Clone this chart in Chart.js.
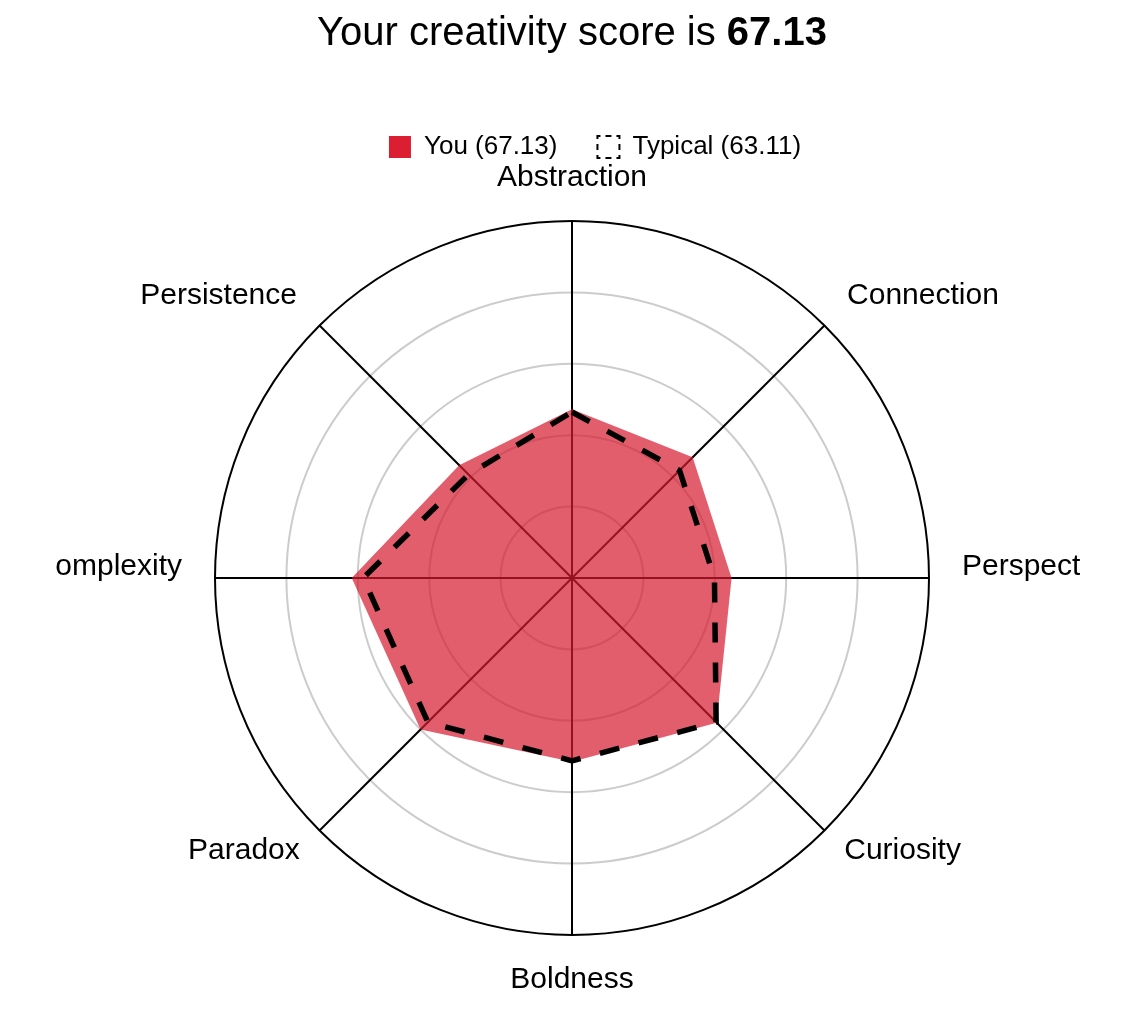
<!DOCTYPE html>
<html>
<head>
<meta charset="utf-8">
<script src="https://cdn.jsdelivr.net/npm/chart.js@4/dist/chart.umd.min.js"></script>
<style>
  html, body { margin: 0; padding: 0; background: #fff; width: 1133px; height: 1015px; overflow: hidden; }
  #title { position: absolute; left: 0; top: 11px; width: 1133px; box-sizing: border-box; padding-left: 11px;
           text-align: center; font-family: "Liberation Sans", Arial, sans-serif; font-size: 40px; line-height: 40px; color: #000; z-index: 2; }
  #wrap { position: absolute; left: 0; top: 0; width: 1133px; height: 1015px; clip-path: inset(0 53px 0 55px); }
</style>
</head>
<body>
<div id="title">Your creativity score is <b>67.13</b></div>
<div id="wrap"><canvas id="c" width="1133" height="1015"></canvas></div>
<script>
const categories = ["Abstraction", "Connection", "Perspective", "Curiosity", "Boldness", "Paradox", "Complexity", "Persistence"];
const youValues = [47.3, 47.8, 44.7, 57.3, 51.5, 60.0, 61.7, 44.7];
const typicalValues = [46.5, 42.6, 39.9, 57.1, 51.2, 57.1, 58.5, 41.0];
const seriesNames = ["You (67.13)", "Typical (63.11)"];
const tickValues = [0, 20, 40, 60, 80, 100];

const RED_SOLID = "rgb(220, 30, 50)";
const RED_FILL = "rgba(214, 25, 45, 0.7)";
const FONT = '"Liberation Sans", Arial, sans-serif';
const LEGEND_OFFSET = 18.5;
// per-label placement styling (clockwise from top)
const LABEL_PAD = [36, 32, 33, 28, 38, 28, 33, 32];
const LABEL_LH = ["15px", "14px", "23px", "1px", "13px", "1px", "23px", "14px"];
const SIDE_LABELS = [2, 6];

Chart.defaults.color = "#000";
Chart.defaults.font.family = FONT;

const legendShift = {
  id: "legendShift",
  afterLayout(chart) {
    if (chart.legend) {
      chart.legend.left += LEGEND_OFFSET;
      chart.legend.right += LEGEND_OFFSET;
    }
  }
};

new Chart(document.getElementById("c"), {
  type: "radar",
  data: {
    labels: categories,
    datasets: [
      {
        label: seriesNames[0],
        data: youValues,
        backgroundColor: RED_FILL,
        borderColor: RED_SOLID,
        borderWidth: 0,
        fill: true,
        pointRadius: 0,
        pointHoverRadius: 0,
        order: 1
      },
      {
        label: seriesNames[1],
        data: typicalValues,
        backgroundColor: "rgba(0,0,0,0)",
        borderColor: "#000",
        borderWidth: 5.5,
        borderDash: [20, 20],
        borderJoinStyle: "miter",
        fill: false,
        pointRadius: 0,
        pointHoverRadius: 0,
        order: 0
      }
    ]
  },
  options: {
    responsive: false,
    animation: false,
    layout: { padding: { top: 94, bottom: 29, left: 20, right: 0 } },
    plugins: {
      title: { display: false },
      tooltip: { enabled: false },
      legend: {
        position: "top",
        labels: {
          font: { family: FONT, size: 26 },
          color: "#000",
          boxWidth: 22,
          boxHeight: 22,
          padding: 40,
          generateLabels(chart) {
            const items = Chart.defaults.plugins.legend.labels.generateLabels(chart);
            items.sort((a, b) => a.datasetIndex - b.datasetIndex);
            items.forEach(it => {
              if (it.datasetIndex === 0) {
                it.fillStyle = RED_SOLID;
                it.strokeStyle = RED_SOLID;
                it.lineWidth = 0;
              } else {
                it.fillStyle = "#fff";
                it.strokeStyle = "#000";
                it.lineWidth = 2;
                it.lineDash = [6, 5];
                it.lineDashOffset = 3;
              }
            });
            return items;
          }
        }
      }
    },
    scales: {
      r: {
        min: tickValues[0],
        max: tickValues[tickValues.length - 1],
        ticks: { display: false, stepSize: 20 },
        grid: {
          circular: true,
          color: (ctx) => (ctx.tick && ctx.tick.value === tickValues[tickValues.length - 1]) ? "#000" : "#cccccc",
          lineWidth: 2
        },
        angleLines: { display: true, color: "#000", lineWidth: 2 },
        pointLabels: {
          callback: (label, index) => SIDE_LABELS.includes(index) ? [label, ""] : label,
          font: (ctx) => ({ family: FONT, size: 30, lineHeight: LABEL_LH[ctx.index] }),
          color: "#000",
          padding: (ctx) => LABEL_PAD[ctx.index]
        }
      }
    }
  },
  plugins: [legendShift]
});
</script>
</body>
</html>
